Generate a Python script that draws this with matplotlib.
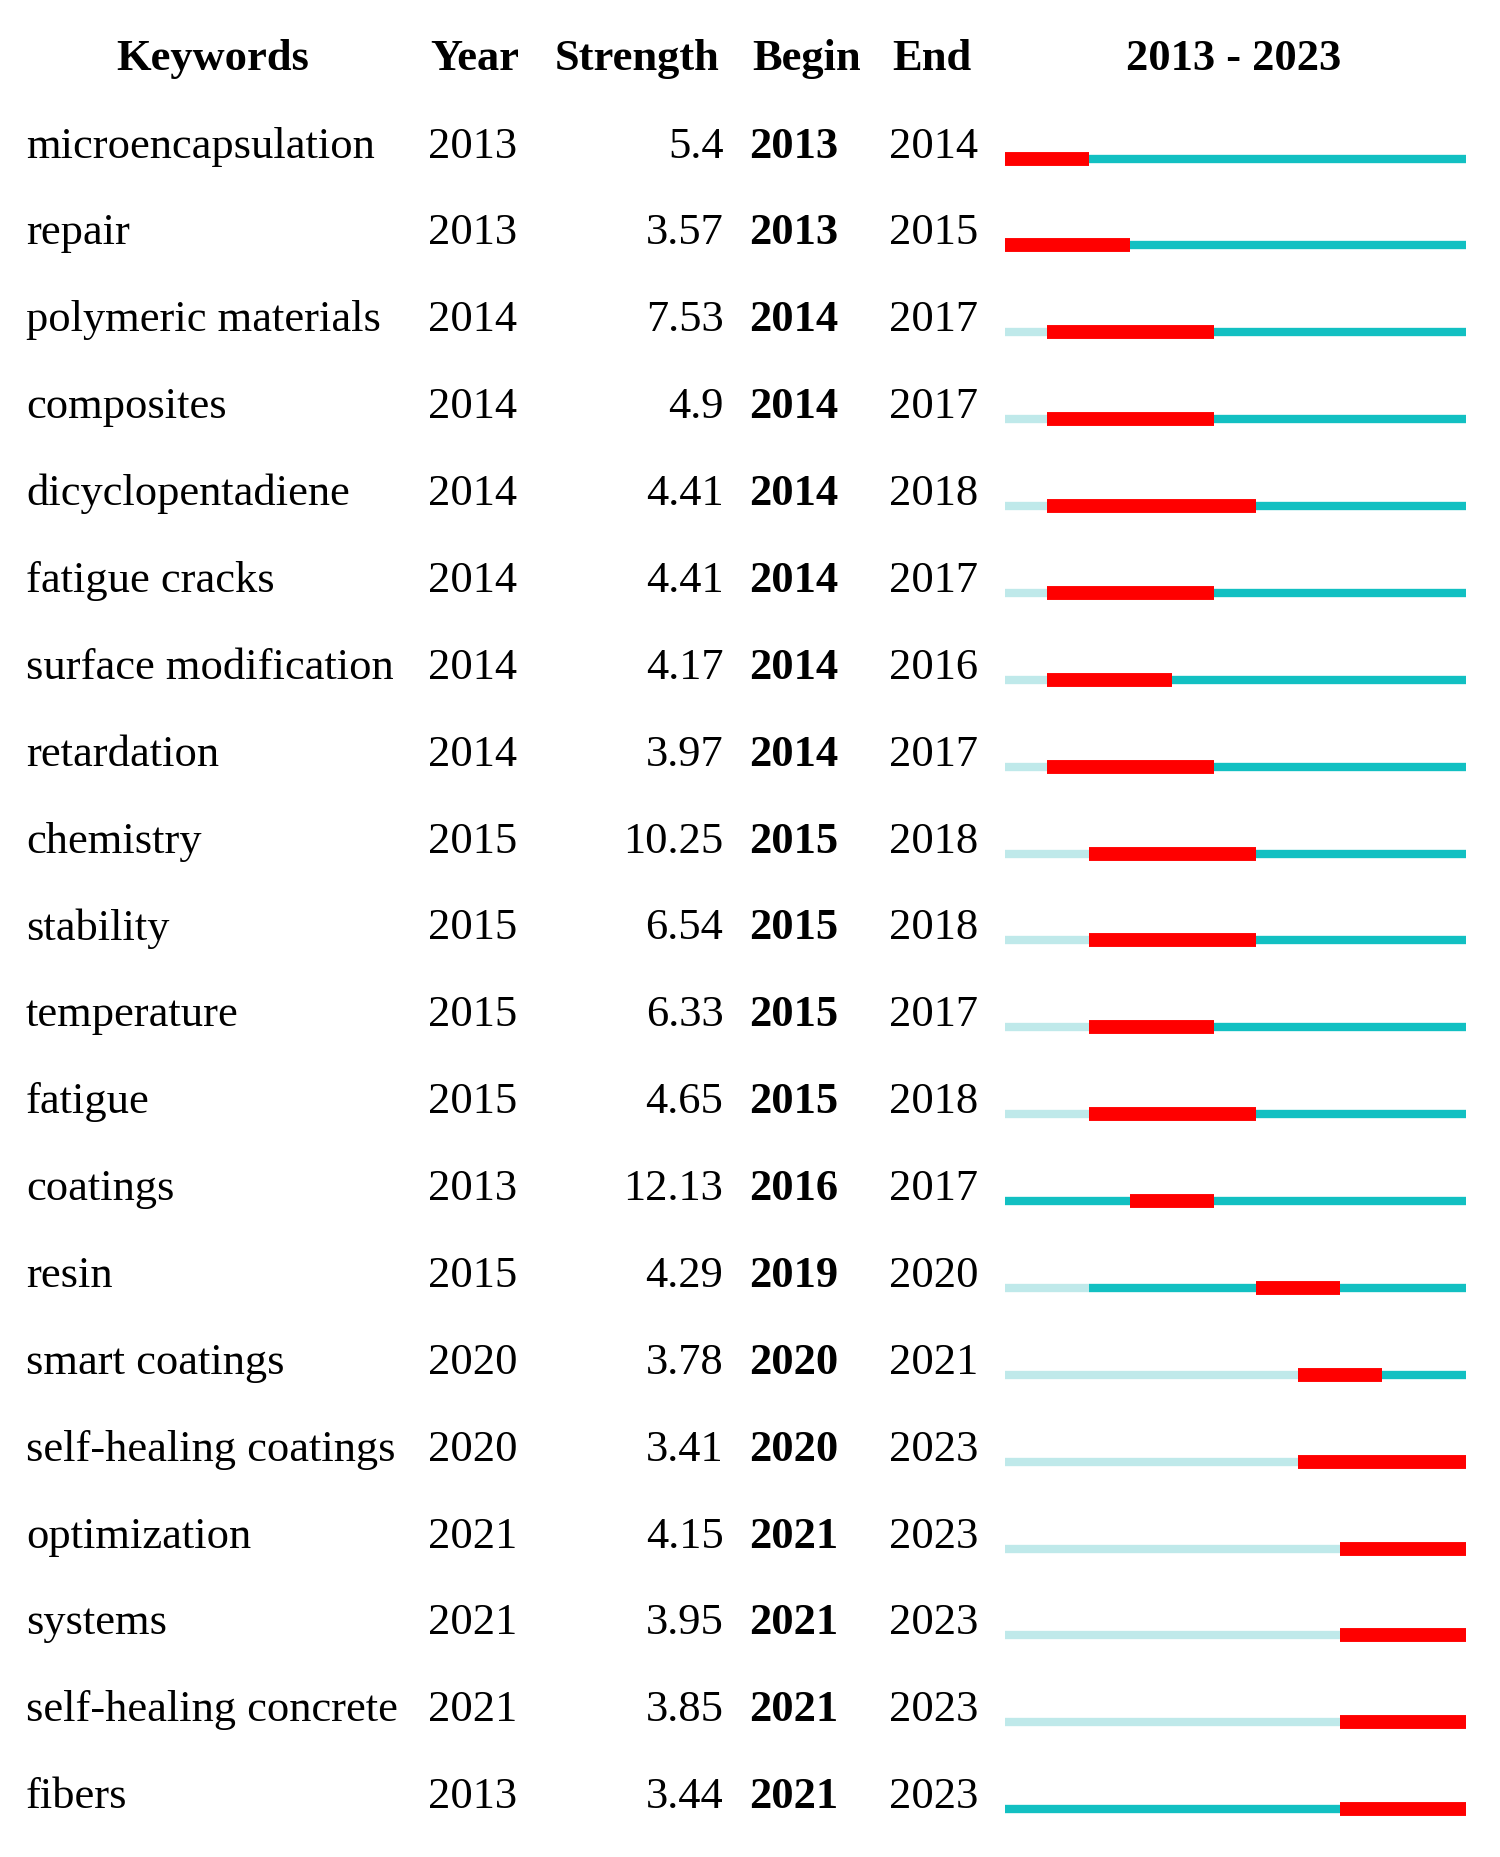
import matplotlib
matplotlib.use("Agg")
import matplotlib.pyplot as plt

keywords = ["microencapsulation","repair","polymeric materials","composites","dicyclopentadiene",
            "fatigue cracks","surface modification","retardation","chemistry","stability","temperature",
            "fatigue","coatings","resin","smart coatings","self-healing coatings","optimization","systems",
            "self-healing concrete","fibers"]
years = [2013,2013,2014,2014,2014,2014,2014,2014,2015,2015,2015,2015,2013,2015,2020,2020,2021,2021,2021,2013]
strengths = ["5.4","3.57","7.53","4.9","4.41","4.41","4.17","3.97","10.25","6.54","6.33","4.65","12.13","4.29","3.78","3.41","4.15","3.95","3.85","3.44"]
begins = [2013,2013,2014,2014,2014,2014,2014,2014,2015,2015,2015,2015,2016,2019,2020,2020,2021,2021,2021,2021]
ends = [2014,2015,2017,2017,2018,2017,2016,2017,2018,2018,2017,2018,2017,2020,2021,2023,2023,2023,2023,2023]
headers = ["Keywords","Year","Strength","Begin","End","2013 - 2023"]
y0, y1 = 2013, 2023

W, H = 1269, 1572
fig = plt.figure(figsize=(15, 18.58), dpi=100)
ax = fig.add_axes([0, 0, 1, 1])
ax.set_xlim(0, W); ax.set_ylim(H, 0); ax.axis("off")
plt.rcParams['font.family'] = ['Liberation Serif']
fs = 32
bx0, bx1 = 850, 1240
yw = (bx1 - bx0) / (y1 - y0 + 1)
def X(yr): return bx0 + (yr - y0) * yw

hy = 50
ax.text(180, hy, headers[0], ha="center", va="center", fontsize=fs, fontweight="bold")
ax.text(402, hy, headers[1], ha="center", va="center", fontsize=fs, fontweight="bold")
ax.text(539, hy, headers[2], ha="center", va="center", fontsize=fs, fontweight="bold")
ax.text(682, hy, headers[3], ha="center", va="center", fontsize=fs, fontweight="bold")
ax.text(788, hy, headers[4], ha="center", va="center", fontsize=fs, fontweight="bold")
ax.text(1044, hy, headers[5], ha="center", va="center", fontsize=fs, fontweight="bold")

for i, k in enumerate(keywords):
    y = 120 + i * 73.5
    ty = y + 4
    ax.text(22, ty, k, ha="left", va="center", fontsize=fs)
    ax.text(362, ty, str(years[i]), ha="left", va="center", fontsize=fs)
    ax.text(612, ty, strengths[i], ha="right", va="center", fontsize=fs)
    ax.text(634, ty, str(begins[i]), ha="left", va="center", fontsize=fs, fontweight="bold")
    ax.text(752, ty, str(ends[i]), ha="left", va="center", fontsize=fs)
    by = y + 15
    ax.plot([X(y0), X(years[i])], [by, by], color="#bfe9ea", lw=6, solid_capstyle="butt")
    ax.plot([X(years[i]), X(y1 + 1)], [by, by], color="#12c0c2", lw=6, solid_capstyle="butt")
    ax.plot([X(begins[i]), X(ends[i] + 1)], [by, by], color="#ff0000", lw=10, solid_capstyle="butt")

fig.savefig("out.png", dpi=100)
